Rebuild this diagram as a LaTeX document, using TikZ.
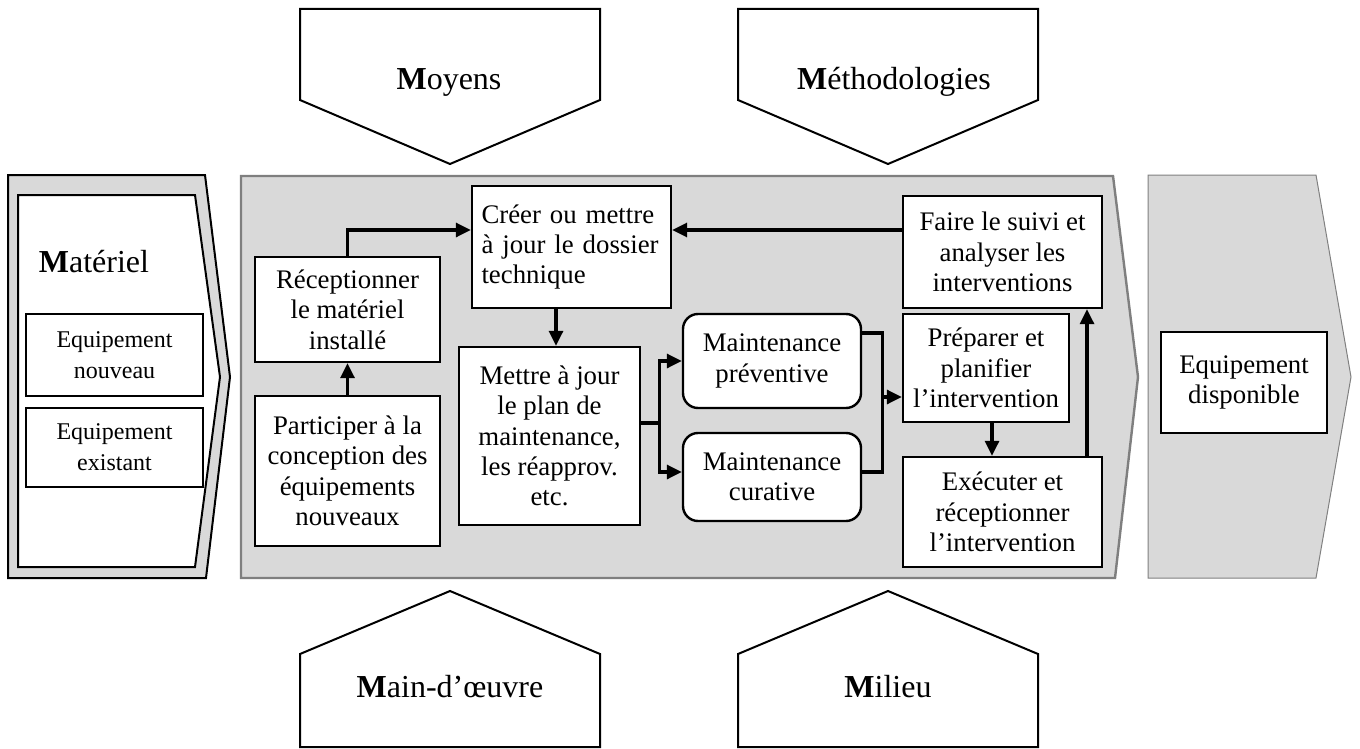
\documentclass[tikz,border=0pt]{standalone}
\usepackage{fontspec}
\setmainfont{Liberation Serif}
\usetikzlibrary{arrows.meta,calc}
\definecolor{bg}{HTML}{D9D9D9}
\definecolor{edge}{HTML}{7F7F7F}
\begin{document}
\begin{tikzpicture}[x=0.5pt,y=-0.5pt,
  box/.style={draw,fill=white,line width=1.2pt,inner sep=0pt,align=center,
    font=\fontsize{13.4}{15.2}\selectfont},
  rbox/.style={box,rounded corners=7.5pt},
  sbox/.style={box,line width=1pt,font=\fontsize{12}{15.5}\selectfont},
  lab/.style={font=\fontsize{16}{19}\selectfont,inner sep=0pt},
  arr/.style={line width=1.6pt,-{Triangle[length=7.5pt,width=7pt]}},
  ln/.style={line width=1.6pt},
  pent/.style={draw,fill=white,line width=1pt}]
\useasboundingbox (0,0) rectangle (1360,749);
% outer shapes
\draw[fill=bg,draw=edge,line width=1.2pt] (241,176) -- (1113,176) -- (1138,377) -- (1115,578) -- (241,578) -- cycle;
\draw[fill=bg,line width=1pt] (8,175) -- (205,175) -- (230,377) -- (206,578) -- (8,578) -- cycle;
\draw[fill=white,line width=1pt] (18,195) -- (195,195) -- (220,377) -- (195,567) -- (18,567) -- cycle;
\draw[fill=bg,draw=gray,line width=0.5pt] (1148,175) -- (1316,175) -- (1351,377) -- (1316,578) -- (1148,578) -- cycle;
% pentagons
\draw[pent] (300,9) -- (600,9) -- (600,100) -- (450,164) -- (300,100) -- cycle;
\draw[pent] (738,9) -- (1038,9) -- (1038,100) -- (888,164) -- (738,100) -- cycle;
\draw[pent] (300,747) -- (600,747) -- (600,654) -- (450,591) -- (300,654) -- cycle;
\draw[pent] (738,747) -- (1038,747) -- (1038,654) -- (888,591) -- (738,654) -- cycle;
\node[lab] (moy) at (449,82) {\textbf{M}oyens};
\node[lab] (met) at (894,82) {\textbf{M}éthodologies};
\node[lab] (mo) at (450,687) {\textbf{M}ain-d’œuvre};
\node[lab] (mil) at (888,687) {\textbf{M}ilieu};
\node[lab] (mat) at (94,262) {\textbf{M}atériel};
% left boxes
\node[sbox,minimum width=88.5pt,minimum height=41pt] (nouv) at (114.5,355) {Equipement\\nouveau};
\node[sbox,minimum width=88.5pt,minimum height=39.5pt] (exist) at (114.5,447.5) {Equipement\\existant};
% right box
\node[box,minimum width=83pt,minimum height=50.5pt] (disp) at (1244,382.5) {Equipement\\disponible};
% process boxes
\node[box,minimum width=92.5pt,minimum height=52.5pt] (rec) at (347.5,309.5) {Réceptionner\\le matériel\\installé};
\node[box,minimum width=92.5pt,minimum height=75pt] (part) at (347.5,471) {Participer à la\\conception des\\équipements\\nouveaux};
\node[box,minimum width=99.5pt,minimum height=61pt,text width=90pt,align=left] (creer) at (571.5,247) {Créer ou mettre\\à jour le dossier\\technique};
\node[box,minimum width=90.5pt,minimum height=89pt] (mettre) at (549.5,436) {Mettre à jour\\le plan de\\maintenance,\\les réapprov.\\etc.};
\node[rbox,minimum width=89pt,minimum height=47pt] (prev) at (772,361) {Maintenance\\préventive};
\node[rbox,minimum width=89pt,minimum height=44pt] (cura) at (772,477) {Maintenance\\curative};
\node[box,minimum width=99.5pt,minimum height=56pt] (faire) at (1002.5,252) {Faire le suivi et\\analyser les\\interventions};
\node[box,minimum width=83pt,minimum height=54pt] (prep) at (986,368) {Préparer et\\planifier\\l’intervention};
\node[box,minimum width=99.5pt,minimum height=55pt] (exec) at (1002.5,512) {Exécuter et\\réceptionner\\l’intervention};
% connectors
\draw[arr] (part.north) -- (rec.south);
\draw[arr] (rec.north) |- ([yshift=8.5pt]creer.west);
\draw[arr] ([yshift=11pt]faire.west) -- ([yshift=11pt]faire.west -| creer.east);
\draw[arr] ([xshift=3.25pt]mettre.north |- creer.south) -- ([xshift=3.25pt]mettre.north);
\coordinate (sp) at ($([yshift=6.5pt]mettre.east)+(18,0)$);
\draw[ln] ([yshift=6.5pt]mettre.east) -- (sp);
\draw[arr] (sp) |- (prev.west);
\draw[arr] (sp) |- ([yshift=2.5pt]cura.west);
\coordinate (jn) at ($([yshift=14pt]prev.east)+(20,0)$);
\coordinate (pin) at ([yshift=-14.5pt]prep.west);
\draw[ln] ([yshift=14pt]prev.east) -- (jn) |- ([yshift=2.5pt]cura.east);
\draw[arr] (jn |- pin) -- (pin);
\draw[arr] ([xshift=3pt]prep.south) -- ([xshift=3pt]prep.south |- exec.north);
\draw[arr] ([xshift=42.25pt]exec.north) -- ([xshift=42.25pt]exec.north |- faire.south);
\end{tikzpicture}
\end{document}
